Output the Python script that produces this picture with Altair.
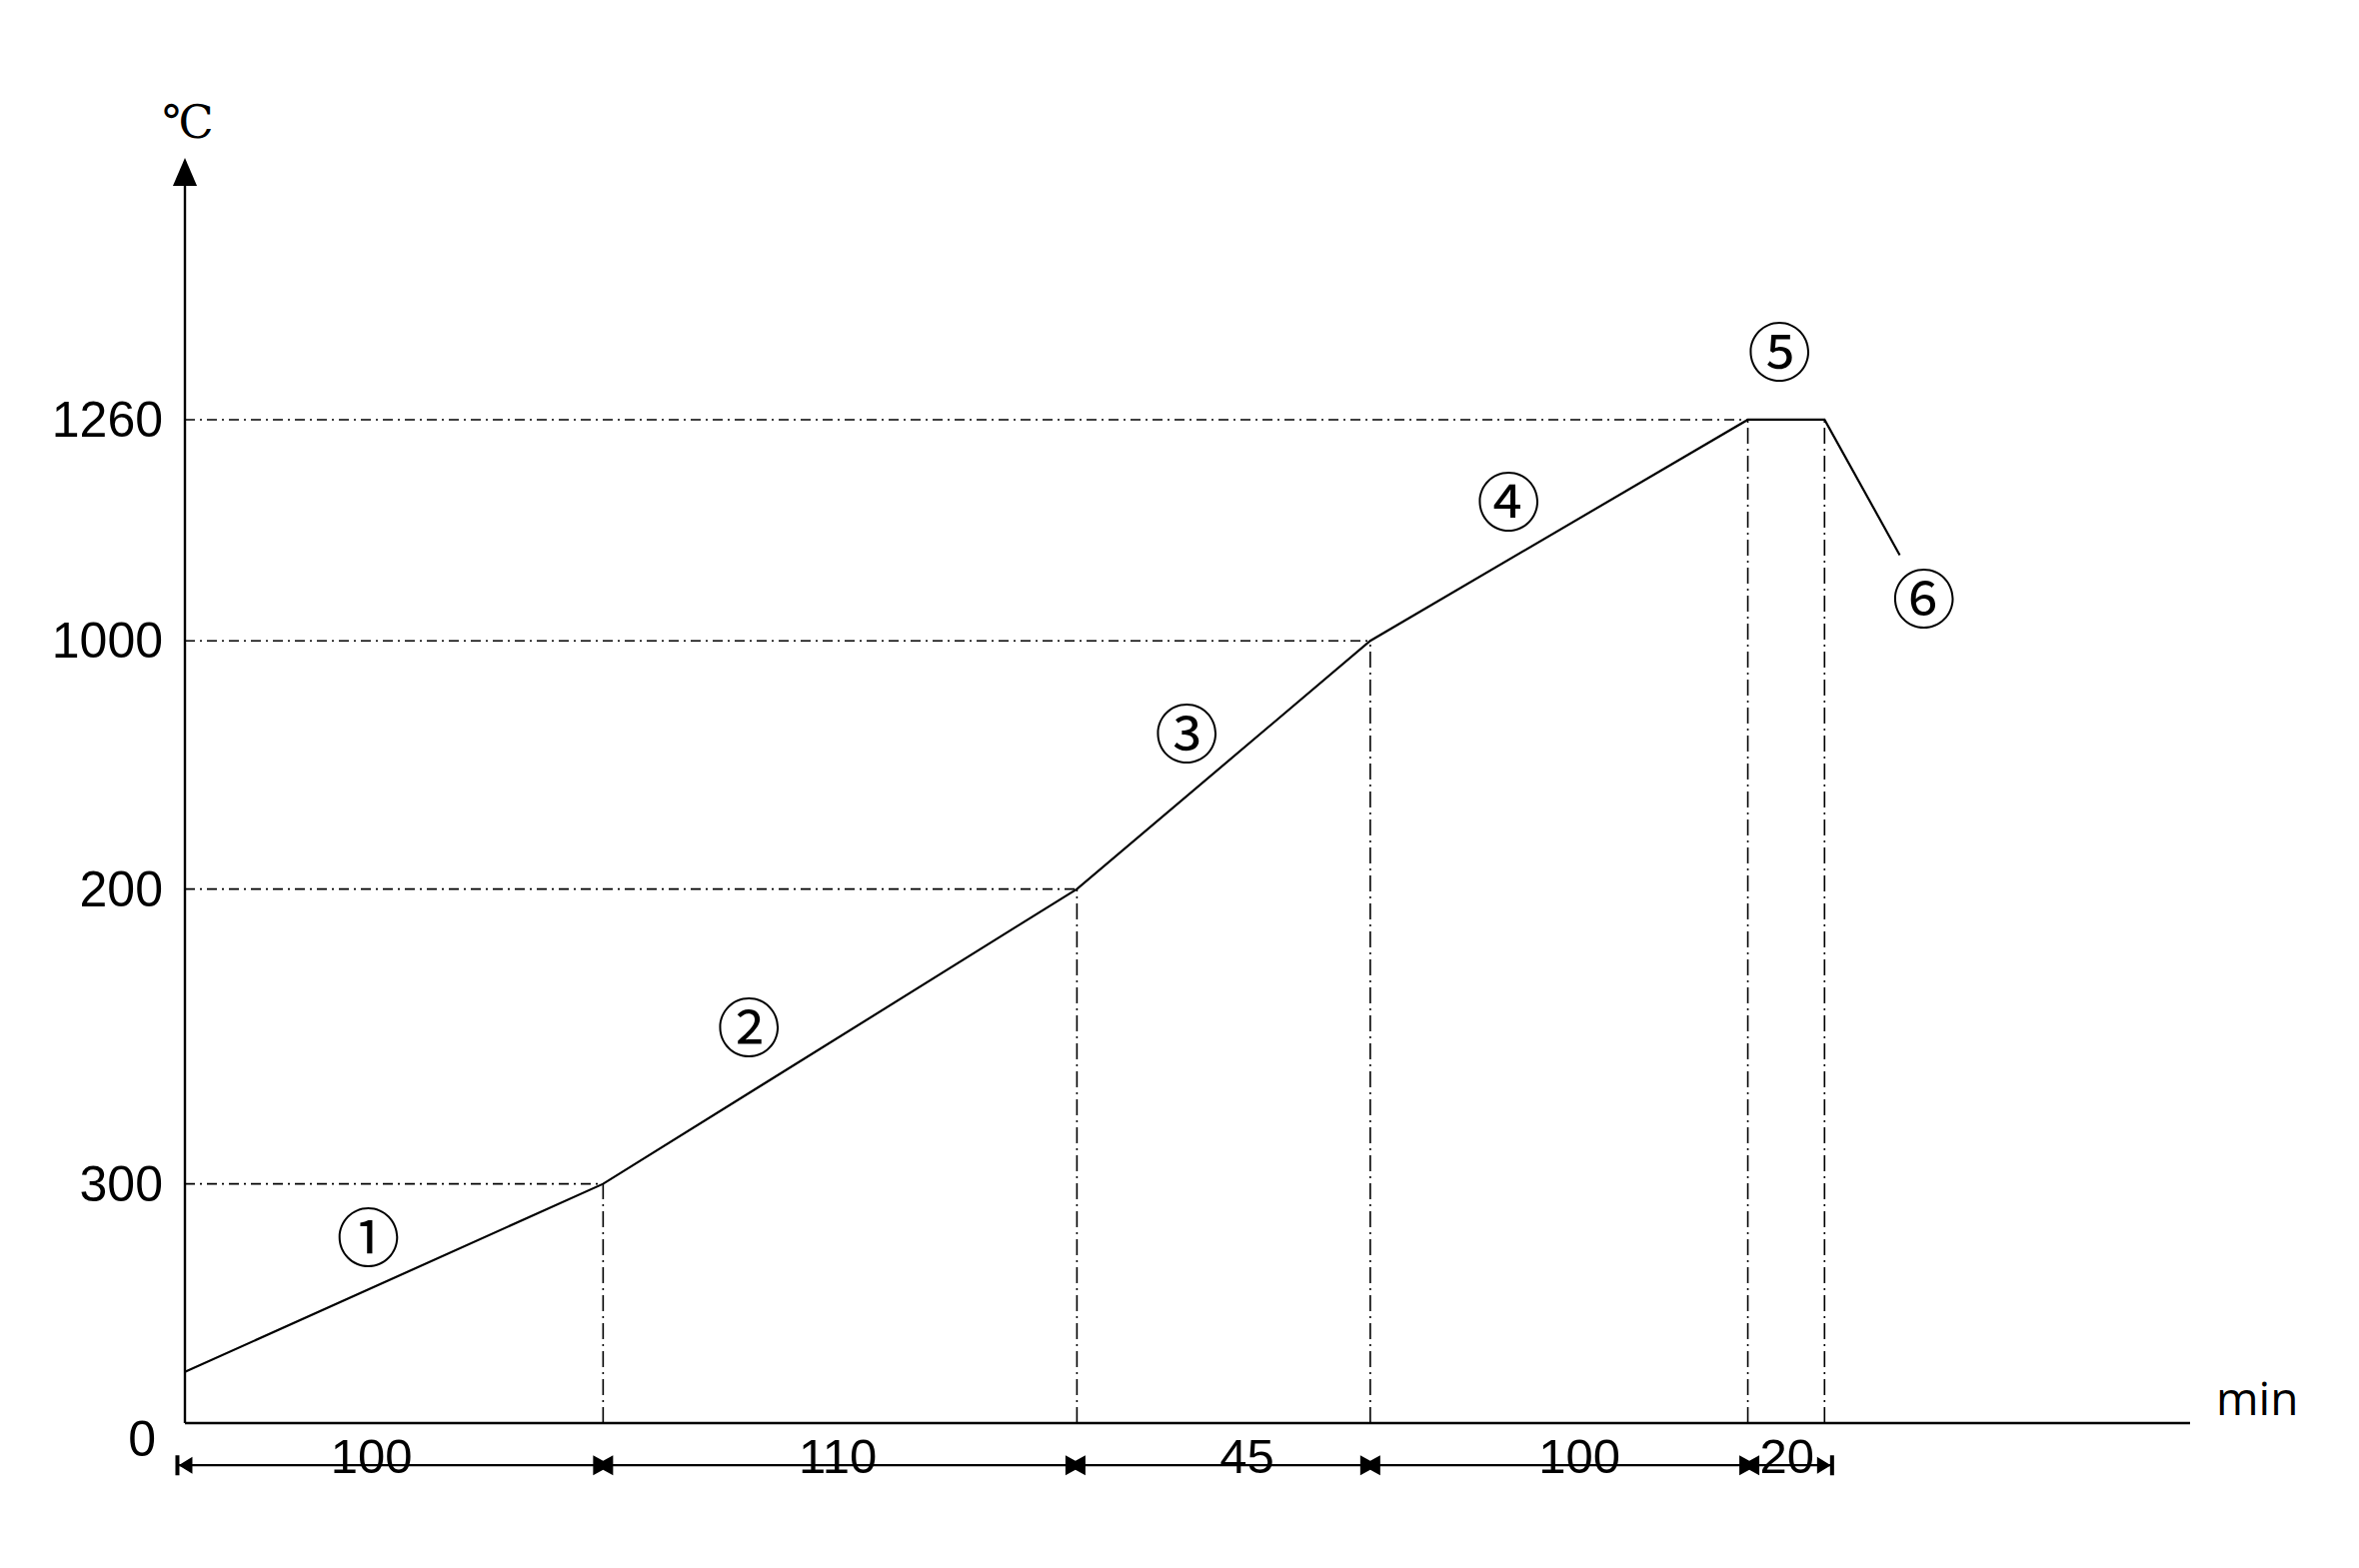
import altair as alt
import pandas as pd

# ---- schematic coordinates (not to scale) ----
# firing curve break points: schematic time position / schematic temperature position
curve_x = [0, 278, 593, 788, 1039, 1090, 1140]
curve_y = [34, 159, 355, 520, 667, 667, 577]

# temperature levels (labels as printed, positions on the schematic axis)
level_labels = ["300", "200", "1000", "1260"]
level_y = [159, 355, 520, 667]
level_end_x = [278, 593, 788, 1039]
origin_label = "0"

# vertical guides at segment boundaries
break_x = [278, 593, 788, 1039, 1090]
break_top = [159, 355, 520, 667, 667]

# segment durations (min) shown on the dimension line
durations = ["100", "110", "45", "100", "20"]
duration_x = [124, 434, 706, 927, 1065]
dim_marks_x = [278, 592, 788, 1040]
dim_start, dim_end, dim_y = -5, 1095, -28

# stage numbers
stage_labels = ["①", "②", "③", "④", "⑤", "⑥"]
stage_x = [122, 375, 666, 880, 1060, 1156]
stage_y = [120, 260, 455, 609, 709, 545]

x_axis_end = 1333
y_axis_end = 841

W, H = 2006, 1266
xs = alt.Scale(domain=[0, x_axis_end], nice=False, zero=False)
ys = alt.Scale(domain=[0, y_axis_end], nice=False, zero=False)

def X(f):
    return alt.X(f, type="quantitative", scale=xs, axis=None)

def Y(f):
    return alt.Y(f, type="quantitative", scale=ys, axis=None)

# horizontal dash-dot guides
hdf = pd.DataFrame({"x0": [0] * len(level_y), "x1": level_end_x, "y": level_y})
hguides = alt.Chart(hdf).mark_rule(color="black", strokeWidth=1.6, strokeDash=[10, 5, 2, 5]).encode(
    x=X("x0"), x2="x1", y=Y("y"))

# vertical dash-dot guides
vdf = pd.DataFrame({"x": break_x, "y0": [0] * len(break_x), "y1": break_top})
vguides = alt.Chart(vdf).mark_rule(color="black", strokeWidth=1.6, strokeDash=[16, 5, 2, 5]).encode(
    x=X("x"), y=Y("y0"), y2="y1")

# firing curve
cdf = pd.DataFrame({"x": curve_x, "y": curve_y, "o": list(range(len(curve_x)))})
curve = alt.Chart(cdf).mark_line(color="black", strokeWidth=2.2).encode(
    x=X("x"), y=Y("y"), order="o:Q")

# axes
axdf = pd.DataFrame({"x0": [0, 0], "x1": [x_axis_end, 0], "y0": [0, 0], "y1": [0, y_axis_end - 10]})
axes = alt.Chart(axdf).mark_rule(color="black", strokeWidth=2.4).encode(
    x=X("x0"), x2="x1", y=Y("y0"), y2="y1")

arrow = alt.Chart(pd.DataFrame({"x": [0], "y": [y_axis_end]})).mark_point(
    shape="M0,0 L0.43,1 L-0.43,1 Z", size=3136, filled=True, color="black", opacity=1, strokeWidth=0
).encode(x=X("x"), y=Y("y"))

# dimension line
dimdf = pd.DataFrame({"x0": [dim_start], "x1": [dim_end], "y": [dim_y]})
dimline = alt.Chart(dimdf).mark_rule(color="black", strokeWidth=2.2).encode(
    x=X("x0"), x2="x1", y=Y("y"))

bow = alt.Chart(pd.DataFrame({"x": dim_marks_x, "y": [dim_y] * len(dim_marks_x)})).mark_point(
    shape="M-1,-1 L0,-0.45 L1,-1 L1,1 L0,0.45 L-1,1 Z", size=400, filled=True,
    color="black", opacity=1, strokeWidth=0
).encode(x=X("x"), y=Y("y"))

left_end = alt.Chart(pd.DataFrame({"x": [dim_start], "y": [dim_y]})).mark_point(
    shape="M-0.2,-1 L0.2,-1 L0.2,-0.05 L1.5,-0.85 L1.5,0.85 L0.2,0.05 L0.2,1 L-0.2,1 Z", size=400,
    filled=True, color="black", opacity=1, strokeWidth=0
).encode(x=X("x"), y=Y("y"))

right_end = alt.Chart(pd.DataFrame({"x": [dim_end], "y": [dim_y]})).mark_point(
    shape="M0.2,-1 L-0.2,-1 L-0.2,-0.05 L-1.5,-0.85 L-1.5,0.85 L-0.2,0.05 L-0.2,1 L0.2,1 Z", size=400,
    filled=True, color="black", opacity=1, strokeWidth=0
).encode(x=X("x"), y=Y("y"))

# texts
num_font = "Liberation Sans"
ylab = alt.Chart(pd.DataFrame({"x": [0] * len(level_y), "y": level_y, "t": level_labels})).mark_text(
    align="right", baseline="middle", dx=-22, dy=2, font=num_font, fontSize=50, color="black"
).encode(x=X("x"), y=Y("y"), text="t:N")

zero = alt.Chart(pd.DataFrame({"x": [0], "y": [0], "t": [origin_label]})).mark_text(
    align="right", baseline="middle", dx=-29, dy=18, font=num_font, fontSize=50, color="black"
).encode(x=X("x"), y=Y("y"), text="t:N")

dlab = alt.Chart(pd.DataFrame({"x": duration_x, "y": [dim_y] * len(duration_x), "t": durations})).mark_text(
    align="center", baseline="alphabetic", dy=8, font=num_font, fontSize=49, color="black"
).encode(x=X("x"), y=Y("y"), text="t:N")

stages = alt.Chart(pd.DataFrame({"x": stage_x, "y": stage_y, "t": stage_labels})).mark_text(
    align="center", baseline="middle", font="Noto Sans CJK SC", fontSize=64, color="black"
).encode(x=X("x"), y=Y("y"), text="t:N")

unit_y = alt.Chart(pd.DataFrame({"x": [0], "y": [y_axis_end], "t": ["℃"]})).mark_text(
    align="center", baseline="middle", dx=3, dy=-34, font="DejaVu Serif", fontSize=46, color="black"
).encode(x=X("x"), y=Y("y"), text="t:N")

unit_x = alt.Chart(pd.DataFrame({"x": [x_axis_end], "y": [0], "t": ["min"]})).mark_text(
    align="left", baseline="middle", dx=26, dy=-22, font="Open Sans", fontSize=46, color="black"
).encode(x=X("x"), y=Y("y"), text="t:N")

chart = alt.layer(
    hguides, vguides, axes, curve, arrow, dimline, bow, left_end, right_end,
    ylab, zero, dlab, stages, unit_y, unit_x
).properties(
    width=W, height=H,
    autosize=alt.AutoSizeParams(type="none"),
    padding={"left": 177, "top": 150, "right": 160, "bottom": 120},
    background="white",
).configure_view(stroke=None)

chart.save("out.html", embed_options={"renderer": "svg", "actions": False})
